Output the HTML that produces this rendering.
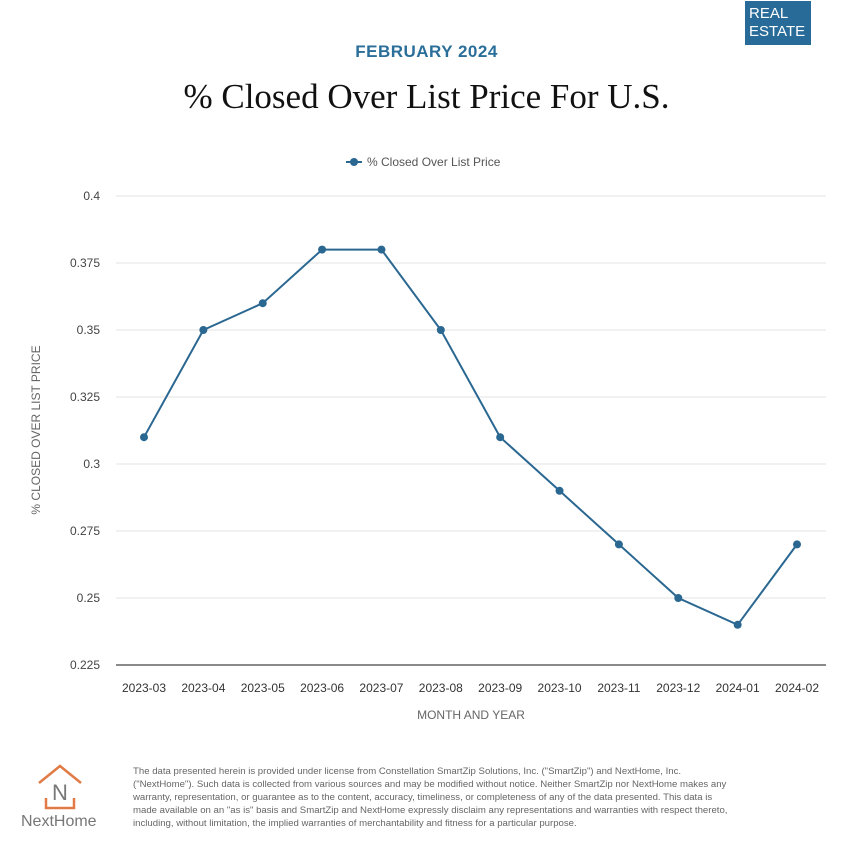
<!DOCTYPE html>
<html><head><meta charset="utf-8"><style>
body{margin:0;width:853px;height:860px;background:#fff;position:relative;font-family:"Liberation Sans",sans-serif;overflow:hidden}
.abs{position:absolute}
</style></head><body>
<div class="abs" style="left:745px;top:1px;width:66px;height:44px;background:#286b98;color:#fff;font-size:15px;line-height:18px;padding:4px 0 0 4px;box-sizing:border-box">REAL<br>ESTATE</div>
<div class="abs" style="left:0;width:853px;top:42px;text-align:center;color:#2a6e9a;font-weight:bold;font-size:17px;letter-spacing:0.5px">FEBRUARY 2024</div>
<div class="abs" style="left:0;width:853px;top:77px;text-align:center;font-family:'Liberation Serif',serif;font-size:35px;color:#111">% Closed Over List Price For U.S.</div>
<svg class="abs" style="left:0;top:0" width="853" height="750">
<g id="grid"></g><g id="series"></g><g id="labels"></g>
<g><line x1="346" y1="162" x2="362" y2="162" stroke="#2a6791" stroke-width="2"/><circle cx="354" cy="162" r="4" fill="#2a6791"/><text x="367" y="166" font-size="12" fill="#555">% Closed Over List Price</text></g>
<text transform="translate(40,430) rotate(-90)" text-anchor="middle" font-size="12" fill="#666">% CLOSED OVER LIST PRICE</text>
<text x="471" y="719" text-anchor="middle" font-size="12" fill="#666">MONTH AND YEAR</text>
</svg>
<svg class="abs" style="left:36px;top:764px" width="50" height="50">
<polyline points="3,19 24,2 45,19" fill="none" stroke="#e07b45" stroke-width="2.5"/>
<text x="24" y="36" text-anchor="middle" font-size="22" fill="#777">N</text>
<polyline points="10,34 10,44 38,44 38,34" fill="none" stroke="#e07b45" stroke-width="2.5"/>
</svg>
<div class="abs" style="left:21px;top:813px;font-size:16px;color:#777">NextHome</div>
<div class="abs" style="left:133px;top:766px;width:612px;font-size:9.6px;line-height:12.9px;color:#666">The data presented herein is provided under license from Constellation SmartZip Solutions, Inc. ("SmartZip") and NextHome, Inc.<br>("NextHome"). Such data is collected from various sources and may be modified without notice. Neither SmartZip nor NextHome makes any<br>warranty, representation, or guarantee as to the content, accuracy, timeliness, or completeness of any of the data presented. This data is<br>made available on an "as is" basis and SmartZip and NextHome expressly disclaim any representations and warranties with respect thereto,<br>including, without limitation, the implied warranties of merchantability and fitness for a particular purpose.</div>
<script>
const categories=["2023-03","2023-04","2023-05","2023-06","2023-07","2023-08","2023-09","2023-10","2023-11","2023-12","2024-01","2024-02"];
const values=[0.31,0.35,0.36,0.38,0.38,0.35,0.31,0.29,0.27,0.25,0.24,0.27];
const yTicks=[0.225,0.25,0.275,0.3,0.325,0.35,0.375,0.4];
const yTickLabels=["0.225","0.25","0.275","0.3","0.325","0.35","0.375","0.4"];
const NS="http://www.w3.org/2000/svg";
const yS=v=>665-(v-0.225)/0.025*67;
const xS=i=>144+i*(797-144)/(categories.length-1);
function mk(t,a,p){const e=document.createElementNS(NS,t);for(const k in a)e.setAttribute(k,a[k]);p.appendChild(e);return e;}
const g=document.getElementById('grid'),s=document.getElementById('series'),l=document.getElementById('labels');
yTicks.forEach((v,i)=>{
 const ln=mk('line',{x1:116,x2:826,y1:yS(v),y2:yS(v),stroke:i==0?'#444':'#e3e3e3','stroke-width':i==0?1.2:1},g);
 
 
 const t=mk('text',{x:100,y:yS(v)+4,'text-anchor':'end','font-size':12,fill:'#444'},l);t.textContent=yTickLabels[i];
 
 
});
categories.forEach((c,i)=>{
 const t=mk('text',{x:xS(i),y:692,'text-anchor':'middle','font-size':12,fill:'#333'},l);t.textContent=c;
 
 
});
const pl=mk('polyline',{points:values.map((v,i)=>xS(i)+','+yS(v)).join(' '),fill:'none',stroke:'#2a6791','stroke-width':2},s);


values.forEach((v,i)=>{
 const c=mk('circle',{cx:xS(i),cy:yS(v),r:4,fill:'#2a6791'},s);
 
 
});
</script>
</body></html>
